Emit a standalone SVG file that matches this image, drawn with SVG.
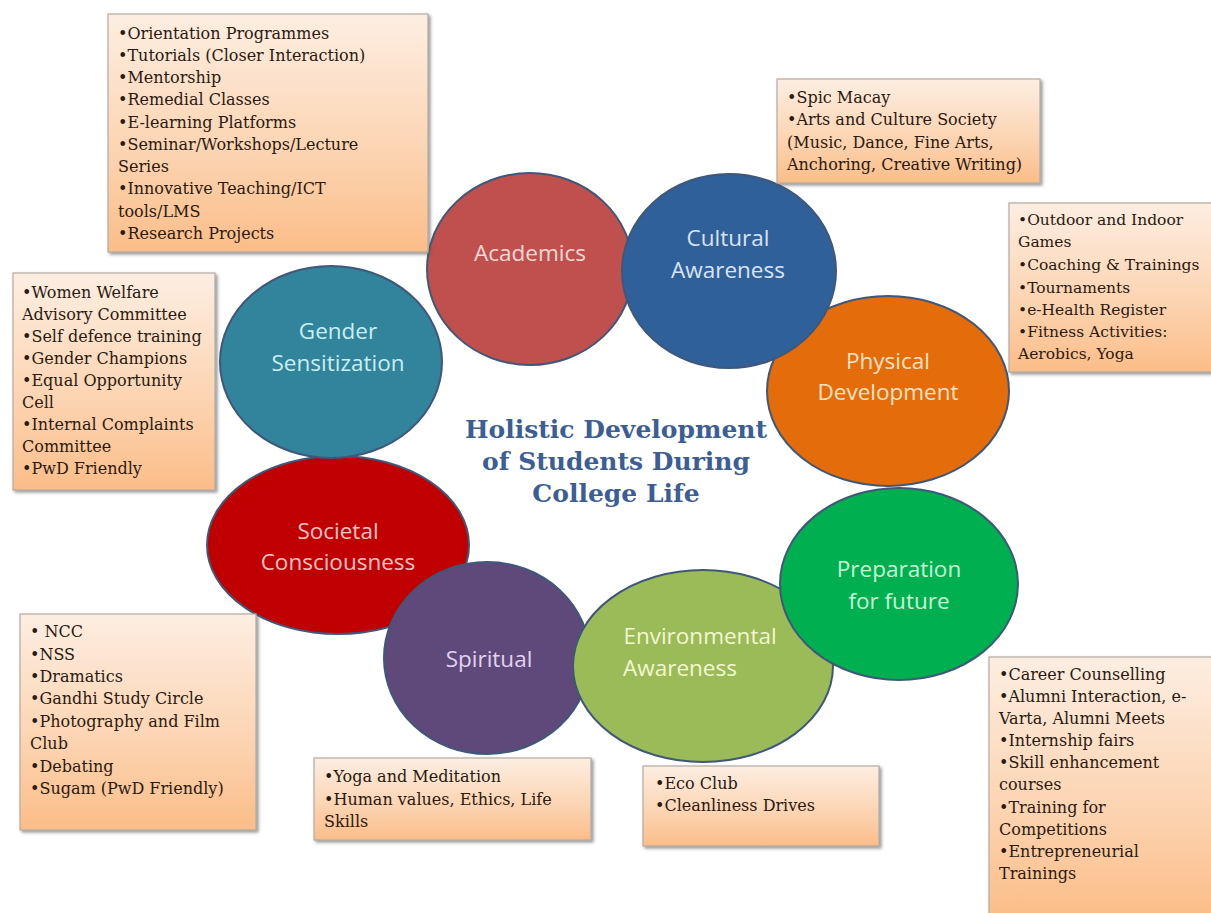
<svg xmlns="http://www.w3.org/2000/svg" width="1211" height="913" viewBox="0 0 1211 913">
<defs>
<linearGradient id="boxg" x1="0" y1="0" x2="0" y2="1">
<stop offset="0" stop-color="#fdeee2"/>
<stop offset="0.6" stop-color="#fcd3b0"/>
<stop offset="1" stop-color="#fbbd88"/>
</linearGradient>
<filter id="sh" x="-5%" y="-5%" width="112%" height="112%">
<feDropShadow dx="2" dy="2" stdDeviation="1.5" flood-color="#555" flood-opacity="0.6"/>
</filter>
</defs>
<style>
.ell{stroke:#3f5779;stroke-width:2}
.lbl{font-family:"Open Sans","Liberation Sans",sans-serif;font-size:22.5px;text-anchor:middle}
.box{fill:url(#boxg);stroke:#b3aaa2;stroke-width:1.2;filter:url(#sh)}
.bt{font-family:"DejaVu Serif","Liberation Serif",serif;font-size:16px;fill:#2a1a10}
.bt3{font-size:15.5px}
.title{font-family:"DejaVu Serif","Liberation Serif",serif;font-size:25px;font-weight:bold;fill:#3c5e93;text-anchor:middle}
</style>
<rect width="1211" height="913" fill="#ffffff"/>

<g id="connectors"></g>

<g id="societal">
<ellipse class="ell" cx="338" cy="545" rx="131" ry="89" fill="#c00000"/>
<text class="lbl" fill="#f8c4c4"><tspan x="338" y="539">Societal</tspan><tspan x="338" y="570">Consciousness</tspan></text>
</g>
<g id="spiritual">
<ellipse class="ell" cx="487" cy="658" rx="103" ry="96" fill="#5f497a"/>
<text class="lbl" fill="#e2d2f2"><tspan x="489" y="667">Spiritual</tspan></text>
</g>
<g id="environmental">
<ellipse class="ell" cx="703" cy="666" rx="130" ry="96" fill="#9bbb59"/>
<text class="lbl" fill="#f2f8d0"><tspan x="700" y="644">Environmental</tspan><tspan x="680" y="676">Awareness</tspan></text>
</g>
<g id="preparation">
<ellipse class="ell" cx="899" cy="584" rx="119" ry="96" fill="#00b050"/>
<text class="lbl" fill="#c8f8d4"><tspan x="899" y="577">Preparation</tspan><tspan x="899" y="609">for future</tspan></text>
</g>
<g id="physical">
<ellipse class="ell" cx="888" cy="391" rx="121" ry="95" fill="#e46c0a"/>
<text class="lbl" fill="#fde2c4"><tspan x="888" y="369">Physical</tspan><tspan x="888" y="400">Development</tspan></text>
</g>
<g id="academics">
<ellipse class="ell" cx="530" cy="269" rx="103" ry="96" fill="#c0504d"/>
<text class="lbl" fill="#f8d8d6"><tspan x="530" y="261">Academics</tspan></text>
</g>
<g id="cultural">
<ellipse class="ell" cx="729" cy="271" rx="107" ry="97" fill="#30609a"/>
<text class="lbl" fill="#d8e4f6"><tspan x="728" y="246">Cultural</tspan><tspan x="728" y="278">Awareness</tspan></text>
</g>
<g id="gender">
<ellipse class="ell" cx="331" cy="362" rx="111" ry="96" fill="#31849b"/>
<text class="lbl" fill="#c8eef6"><tspan x="338" y="339">Gender</tspan><tspan x="338" y="371">Sensitization</tspan></text>
</g>

<g id="title">
<text class="title"><tspan x="616" y="438">Holistic Development</tspan><tspan x="616" y="470">of Students During</tspan><tspan x="616" y="502">College Life</tspan></text>
</g>

<g id="box-academics">
<rect class="box" x="108" y="14" width="320" height="238"/>
<text class="bt"><tspan x="118" y="39">•Orientation Programmes</tspan><tspan x="118" y="61">•Tutorials (Closer Interaction)</tspan><tspan x="118" y="83">•Mentorship</tspan><tspan x="118" y="105">•Remedial Classes</tspan><tspan x="118" y="128">•E-learning Platforms</tspan><tspan x="118" y="150">•Seminar/Workshops/Lecture</tspan><tspan x="118" y="172">Series</tspan><tspan x="118" y="194">•Innovative Teaching/ICT</tspan><tspan x="118" y="217">tools/LMS</tspan><tspan x="118" y="239">•Research Projects</tspan></text>
</g>
<g id="box-cultural">
<rect class="box" x="777" y="79" width="263" height="104"/>
<text class="bt"><tspan x="787" y="103">•Spic Macay</tspan><tspan x="787" y="125">•Arts and Culture Society</tspan><tspan x="787" y="148">(Music, Dance, Fine Arts,</tspan><tspan x="787" y="170">Anchoring, Creative Writing)</tspan></text>
</g>
<g id="box-physical">
<rect class="box" x="1009" y="203" width="206" height="169"/>
<text class="bt bt3"><tspan x="1018" y="225">•Outdoor and Indoor</tspan><tspan x="1018" y="247">Games</tspan><tspan x="1018" y="270">•Coaching &amp; Trainings</tspan><tspan x="1018" y="293">•Tournaments</tspan><tspan x="1018" y="315">•e-Health Register</tspan><tspan x="1018" y="337">•Fitness Activities:</tspan><tspan x="1018" y="359">Aerobics, Yoga</tspan></text>
</g>
<g id="box-gender">
<rect class="box" x="13" y="273" width="202" height="217"/>
<text class="bt"><tspan x="22" y="298">•Women Welfare</tspan><tspan x="22" y="320">Advisory Committee</tspan><tspan x="22" y="342">•Self defence training</tspan><tspan x="22" y="364">•Gender Champions</tspan><tspan x="22" y="386">•Equal Opportunity</tspan><tspan x="22" y="408">Cell</tspan><tspan x="22" y="430">•Internal Complaints</tspan><tspan x="22" y="452">Committee</tspan><tspan x="22" y="474">•PwD Friendly</tspan></text>
</g>
<g id="box-societal">
<rect class="box" x="20" y="614" width="236" height="216"/>
<text class="bt"><tspan x="30" y="637">• NCC</tspan><tspan x="30" y="660">•NSS</tspan><tspan x="30" y="682">•Dramatics</tspan><tspan x="30" y="704">•Gandhi Study Circle</tspan><tspan x="30" y="727">•Photography and Film</tspan><tspan x="30" y="749">Club</tspan><tspan x="30" y="772">•Debating</tspan><tspan x="30" y="794">•Sugam (PwD Friendly)</tspan></text>
</g>
<g id="box-spiritual">
<rect class="box" x="314" y="758" width="277" height="82"/>
<text class="bt"><tspan x="324" y="782">•Yoga and Meditation</tspan><tspan x="324" y="805">•Human values, Ethics, Life</tspan><tspan x="324" y="827">Skills</tspan></text>
</g>
<g id="box-environmental">
<rect class="box" x="643" y="766" width="236" height="80"/>
<text class="bt"><tspan x="655" y="789">•Eco Club</tspan><tspan x="655" y="811">•Cleanliness  Drives</tspan></text>
</g>
<g id="box-preparation">
<rect class="box" x="989" y="657" width="226" height="260"/>
<text class="bt"><tspan x="999" y="680">•Career Counselling</tspan><tspan x="999" y="702">•Alumni Interaction, e-</tspan><tspan x="999" y="724">Varta, Alumni Meets</tspan><tspan x="999" y="746">•Internship fairs</tspan><tspan x="999" y="768">•Skill enhancement</tspan><tspan x="999" y="790">courses</tspan><tspan x="999" y="813">•Training for</tspan><tspan x="999" y="835">Competitions</tspan><tspan x="999" y="857">•Entrepreneurial</tspan><tspan x="999" y="879">Trainings</tspan></text>
</g>
</svg>
